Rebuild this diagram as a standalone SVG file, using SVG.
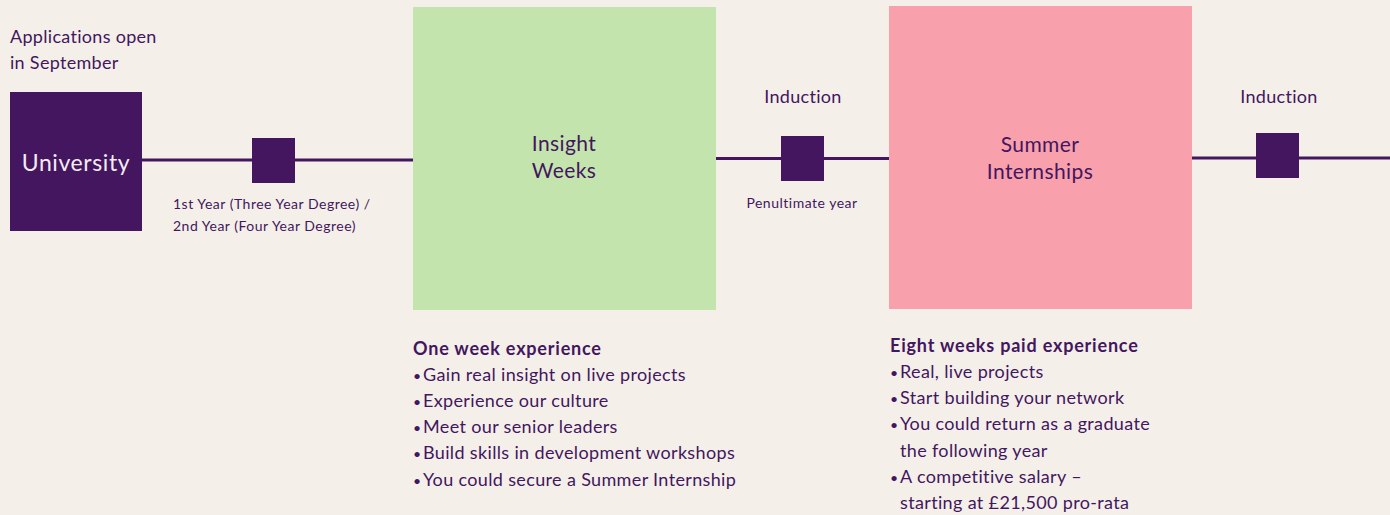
<svg xmlns="http://www.w3.org/2000/svg" width="1390" height="515" viewBox="0 0 1390 515">
<style>
text{font-family:"Lato","Liberation Sans",sans-serif;fill:#43165f}
.sq{fill:#43165f}
.ln{stroke:#43165f;stroke-width:3;fill:none}
.t17{font-size:18px;letter-spacing:0.3px}
.t13{font-size:14px;letter-spacing:0.5px}
.big{font-size:21px;letter-spacing:0.4px}
.hd{font-size:18px;font-weight:bold;letter-spacing:0.8px}
.li{font-size:18px;letter-spacing:0.35px}
.bu{font-size:14px}
</style>
<rect width="1390" height="515" fill="#f4f0e9"/>
<g id="connectors">
<line class="ln" x1="142" y1="160" x2="413" y2="160"/>
<line class="ln" x1="716" y1="158.5" x2="889" y2="158.5"/>
<line class="ln" x1="1192" y1="158" x2="1390" y2="158"/>
</g>
<g id="apps"><text class="t17" x="10" y="43">Applications open</text><text class="t17" x="10" y="69">in September</text></g>
<g id="university"><rect x="10" y="92" width="132" height="139" class="sq"/><text x="76" y="171" text-anchor="middle" style="font-size:23px;letter-spacing:0.6px;fill:#f3ecf2">University</text></g>
<g id="step1"><rect x="252" y="138" width="43" height="45" class="sq"/><text class="t13" x="173" y="209">1st Year (Three Year Degree) /</text><text class="t13" x="173" y="231">2nd Year (Four Year Degree)</text></g>
<g id="insight"><rect x="413" y="7" width="303" height="303" fill="#c3e5ad"/><text class="big" x="564" y="151" text-anchor="middle">Insight</text><text class="big" x="564" y="178" text-anchor="middle">Weeks</text></g>
<g id="step2"><text class="t17" x="803" y="103" text-anchor="middle">Induction</text><rect x="781" y="136" width="43" height="45" class="sq"/><text class="t13" x="802" y="208" text-anchor="middle">Penultimate year</text></g>
<g id="summer"><rect x="889" y="6" width="303" height="303" fill="#f9a0ad"/><text class="big" x="1040" y="152" text-anchor="middle">Summer</text><text class="big" x="1040" y="179" text-anchor="middle">Internships</text></g>
<g id="step3"><text class="t17" x="1279" y="103" text-anchor="middle">Induction</text><rect x="1256" y="133" width="43" height="45" class="sq"/></g>
<g id="insight-details">
<text class="hd" x="413" y="355">One week experience</text>
<text class="li" x="413" y="381"><tspan class="bu">•</tspan><tspan x="423">Gain real insight on live projects</tspan></text>
<text class="li" x="413" y="407"><tspan class="bu">•</tspan><tspan x="423">Experience our culture</tspan></text>
<text class="li" x="413" y="433"><tspan class="bu">•</tspan><tspan x="423">Meet our senior leaders</tspan></text>
<text class="li" x="413" y="459"><tspan class="bu">•</tspan><tspan x="423">Build skills in development workshops</tspan></text>
<text class="li" x="413" y="486"><tspan class="bu">•</tspan><tspan x="423">You could secure a Summer Internship</tspan></text>
</g>
<g id="summer-details">
<text class="hd" x="890" y="352">Eight weeks paid experience</text>
<text class="li" x="890" y="378"><tspan class="bu">•</tspan><tspan x="900">Real, live projects</tspan></text>
<text class="li" x="890" y="404"><tspan class="bu">•</tspan><tspan x="900">Start building your network</tspan></text>
<text class="li" x="890" y="430"><tspan class="bu">•</tspan><tspan x="900">You could return as a graduate</tspan></text>
<text class="li" x="900" y="457">the following year</text>
<text class="li" x="890" y="483"><tspan class="bu">•</tspan><tspan x="900">A competitive salary –</tspan></text>
<text class="li" x="900" y="509">starting at £21,500 pro-rata</text>
</g>
</svg>
